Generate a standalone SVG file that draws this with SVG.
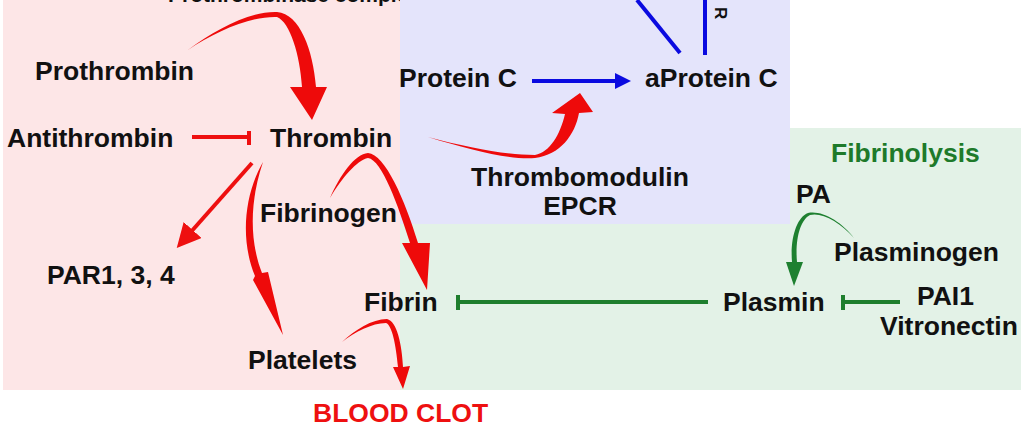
<svg xmlns="http://www.w3.org/2000/svg" width="1024" height="434" viewBox="0 0 1024 434">
<style>
text{font-family:"Liberation Sans",Arial,sans-serif;font-weight:bold;font-size:26.5px;fill:#111}
.red{fill:#ee1010}
.grn{fill:#1e7a2a}
.redf{fill:#ee0a0a}
.grnf{fill:#1e8030}
.rl{stroke:#ee1010;stroke-width:4;fill:none}
.gl{stroke:#1e7f2e;stroke-width:4;fill:none}
.bl{stroke:#0a0ae0;stroke-width:4;fill:none}
</style>
<defs>
<marker id="ahRed" markerWidth="6" markerHeight="6" refX="1" refY="3" orient="auto" markerUnits="strokeWidth">
<path d="M0,0 L6,3 L0,6 Z" fill="#ee1010"/>
</marker>
<marker id="ahBlue" markerWidth="4" markerHeight="4" refX="0.5" refY="2" orient="auto" markerUnits="strokeWidth">
<path d="M0,0 L4,2 L0,4 Z" fill="#0a0ae0"/>
</marker>
</defs>
<rect width="1024" height="434" fill="#ffffff"/>
<g id="panels">
<rect x="3" y="0" width="397" height="390" fill="#fde6e7"/>
<text x="168" y="2" style="font-size:21px">Prothrombinase complex</text>
<rect x="400" y="0" width="390" height="224" fill="#e4e4fb"/>
<path d="M790,128 H1021 V390 H400 V224 H790 Z" fill="#e3f2e7"/>
</g>
<g id="connectors">
<path class="rl" d="M192,137 H249"/>
<path class="rl" d="M249,131 V145"/>
<path class="rl" d="M252,163 L190,233" marker-end="url(#ahRed)"/>
<path class="bl" d="M532,81 H617" marker-end="url(#ahBlue)"/>
<path class="bl" d="M637,0 L680,53"/>
<path class="bl" d="M705,0 V55"/>
<path class="gl" d="M708,302 H458"/>
<path class="gl" d="M458,295 V310"/>
<path class="gl" d="M900,302 H843"/>
<path class="gl" d="M843,295 V310"/>
<path class="redf" d="M188,50 C215,30 250,11 277,12 C300,14 313,50 316,87 L327,87 L312,120 L290,87 L302,87 C300,55 290,22 277,17 C250,16 215,32 188,50 Z"/>
<path class="redf" d="M330,198 C340,175 355,154 368,153 C385,154 405,200 418,243 L430,243 L427,290 L402,243 L410,243 C398,205 382,160 368,158 C357,160 342,178 330,198 Z"/>
<path class="redf" d="M263,162 C244,195 240,240 255,276 L253,280 L283,335 L268,272 L262,273 C249,240 250,200 263,162 Z"/>
<path class="redf" d="M342,342 C355,330 372,319 387,319 C397,321 402,345 403,367 L410,366 L403,389 L393,367 L398,367 C396,345 392,325 386,323 C372,323 355,332 342,342 Z"/>
<path class="redf" d="M428,137 C470,150 510,160 535,158 C560,155 575,135 579,113 L593,112 L580,93 L552,113 L565,114 C560,135 550,152 535,155 C505,155 470,148 428,137 Z"/>
<path class="grnf" d="M854,238 C840,222 822,212 810,215 C800,220 795,240 797,262 L803,262 L794,286 L786,262 L792,262 C790,238 797,217 808,213 C822,210 842,222 854,238 Z"/>
</g>
<g id="n-prothrombin"><text x="35" y="80">Prothrombin</text></g>
<g id="n-antithrombin"><text x="7" y="147">Antithrombin</text></g>
<g id="n-thrombin"><text x="270" y="147">Thrombin</text></g>
<g id="n-proteinc"><text x="399" y="87">Protein C</text></g>
<g id="n-aproteinc"><text x="645" y="87">aProtein C</text></g>
<g id="n-r"><text transform="translate(715,7) rotate(90)" x="0" y="0" style="font-size:17px">R</text></g>
<g id="n-thrombomodulin"><text x="580" y="186" text-anchor="middle">Thrombomodulin</text><text x="580" y="215" text-anchor="middle">EPCR</text></g>
<g id="n-fibrinolysis"><text class="grn" x="831" y="162">Fibrinolysis</text></g>
<g id="n-pa"><text x="796" y="203">PA</text></g>
<g id="n-plasminogen"><text x="834" y="261">Plasminogen</text></g>
<g id="n-fibrinogen"><text x="260" y="222">Fibrinogen</text></g>
<g id="n-par"><text x="47" y="284">PAR1, 3, 4</text></g>
<g id="n-fibrin"><text x="364" y="311">Fibrin</text></g>
<g id="n-plasmin"><text x="723" y="311">Plasmin</text></g>
<g id="n-pai1"><text x="917" y="305">PAI1</text><text x="880" y="335">Vitronectin</text></g>
<g id="n-platelets"><text x="248" y="369">Platelets</text></g>
<g id="n-bloodclot"><text class="red" x="313" y="422">BLOOD CLOT</text></g>
</svg>
